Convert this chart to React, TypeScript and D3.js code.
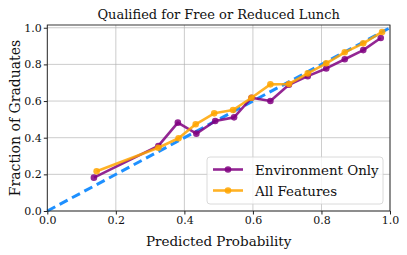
import React, { useEffect, useRef } from "react";
import * as d3 from "d3";

const title = "Qualified for Free or Reduced Lunch";
const xLabel = "Predicted Probability";
const yLabel = "Fraction of Graduates";
const ticks = [0, 0.2, 0.4, 0.6, 0.8, 1.0];

// Environment Only
const envX = [0.136, 0.324, 0.381, 0.435, 0.49, 0.545, 0.596, 0.651, 0.705, 0.76, 0.814, 0.868, 0.922, 0.973];
const envY = [0.182, 0.355, 0.482, 0.422, 0.491, 0.511, 0.618, 0.6, 0.689, 0.736, 0.778, 0.828, 0.878, 0.944];

// All Features
const allX = [0.144, 0.324, 0.383, 0.433, 0.487, 0.542, 0.596, 0.651, 0.705, 0.76, 0.814, 0.868, 0.922, 0.977];
const allY = [0.217, 0.345, 0.397, 0.473, 0.533, 0.551, 0.618, 0.691, 0.693, 0.751, 0.806, 0.866, 0.915, 0.977];

const seriesNames = ["Environment Only", "All Features"];
const seriesColors = ["rgba(128,0,128,0.85)", "rgba(255,165,0,0.85)"];

const FONT = "DejaVu Serif";

const App: React.FC = () => {
    const svgRef = useRef<SVGSVGElement | null>(null);

    useEffect(() => {
        if (!svgRef.current) return;
        const svg = d3.select(svgRef.current);
        svg.selectAll("*").remove();

        const width = 407;
        const height = 255;
        const margin = { top: 25, right: 17, bottom: 44, left: 47.3 };

        svg.attr("width", width).attr("height", height);

        const x = d3.scaleLinear().domain([0, 1]).range([margin.left, width - margin.right]);
        const y = d3.scaleLinear().domain([0, 1.015]).range([height - margin.bottom, margin.top]);

        // 그리드
        const grid = svg.append("g");
        ticks.forEach((t) => {
            grid.append("line")
                .attr("x1", x(t)).attr("x2", x(t))
                .attr("y1", y.range()[0]).attr("y2", y.range()[1])
                .attr("stroke", "#b0b0b0").attr("stroke-width", 0.8).attr("opacity", 0.8);
            grid.append("line")
                .attr("x1", x.range()[0]).attr("x2", x.range()[1])
                .attr("y1", y(t)).attr("y2", y(t))
                .attr("stroke", "#b0b0b0").attr("stroke-width", 0.8).attr("opacity", 0.8);
        });

        // 대각선
        svg.append("line")
            .attr("x1", x(0)).attr("y1", y(0))
            .attr("x2", x(1)).attr("y2", y(1))
            .attr("stroke", "#1e90ff")
            .attr("stroke-width", 3)
            .attr("stroke-dasharray", "9,5");

        const line = d3.line<[number, number]>()
            .x((d) => x(d[0]))
            .y((d) => y(d[1]));

        const series: [number, number][][] = [
            envX.map((v, i) => [v, envY[i]] as [number, number]),
            allX.map((v, i) => [v, allY[i]] as [number, number]),
        ];

        series.forEach((pts, si) => {
            const g = svg.append("g");
            g.append("path")
                .datum(pts)
                .attr("fill", "none")
                .attr("stroke", seriesColors[si])
                .attr("stroke-width", 2.6)
                .attr("stroke-linejoin", "round")
                .attr("d", line);
            g.selectAll("circle")
                .data(pts)
                .enter()
                .append("circle")
                .attr("cx", (d) => x(d[0]))
                .attr("cy", (d) => y(d[1]))
                .attr("r", 3.3)
                .attr("fill", seriesColors[si]);
        });

        // 테두리
        svg.append("rect")
            .attr("x", x.range()[0]).attr("y", y.range()[1])
            .attr("width", x.range()[1] - x.range()[0])
            .attr("height", y.range()[0] - y.range()[1])
            .attr("fill", "none")
            .attr("stroke", "#222")
            .attr("stroke-width", 0.9);

        // 축
        const xAxis = svg.append("g")
            .attr("transform", `translate(0,${y.range()[0]})`)
            .call(d3.axisBottom(x).tickValues(ticks).tickFormat(d3.format(".1f")).tickSize(3.5).tickPadding(2));
        const yAxis = svg.append("g")
            .attr("transform", `translate(${x.range()[0]},0)`)
            .call(d3.axisLeft(y).tickValues(ticks).tickFormat(d3.format(".1f")).tickSize(3.5).tickPadding(2));
        [xAxis, yAxis].forEach((a) => {
            a.select(".domain").remove();
            a.selectAll("line").attr("stroke", "#222");
            a.selectAll("text")
                .attr("font-family", FONT)
                .attr("font-size", 11)
                .attr("fill", "#111");
        });

        // 제목, 축 레이블
        svg.append("text")
            .attr("x", (x.range()[0] + x.range()[1]) / 2)
            .attr("y", 19)
            .attr("text-anchor", "middle")
            .attr("font-family", FONT)
            .attr("font-size", 13)
            .attr("fill", "#111")
            .text(title);

        svg.append("text")
            .attr("x", (x.range()[0] + x.range()[1]) / 2)
            .attr("y", 246)
            .attr("text-anchor", "middle")
            .attr("font-family", FONT)
            .attr("font-size", 13.5)
            .attr("fill", "#111")
            .text(xLabel);

        svg.append("text")
            .attr("transform", `translate(20,${(y.range()[0] + y.range()[1]) / 2}) rotate(-90)`)
            .attr("text-anchor", "middle")
            .attr("font-family", FONT)
            .attr("font-size", 14)
            .attr("fill", "#111")
            .text(yLabel);

        // 범례
        const lg = svg.append("g").attr("transform", "translate(207,157)");
        lg.append("rect")
            .attr("width", 176).attr("height", 47)
            .attr("rx", 3)
            .attr("fill", "rgba(255,255,255,0.8)")
            .attr("stroke", "#d0d0d0")
            .attr("stroke-width", 0.8);
        seriesNames.forEach((name, i) => {
            const cy = 12.5 + i * 21;
            lg.append("line")
                .attr("x1", 6).attr("x2", 36)
                .attr("y1", cy).attr("y2", cy)
                .attr("stroke", seriesColors[i])
                .attr("stroke-width", 2.6);
            lg.append("circle")
                .attr("cx", 21).attr("cy", cy).attr("r", 3.3)
                .attr("fill", seriesColors[i]);
            lg.append("text")
                .attr("x", 48).attr("y", cy + 5)
                .attr("font-family", FONT)
                .attr("font-size", 13.4)
                .attr("fill", "#111")
                .text(name);
        });
    }, []);

    return (
        <svg
            ref={svgRef}
            style={{ position: "absolute", left: 0, top: 0, display: "block", background: "#fff" }}
        ></svg>
    );
};

export default App;
